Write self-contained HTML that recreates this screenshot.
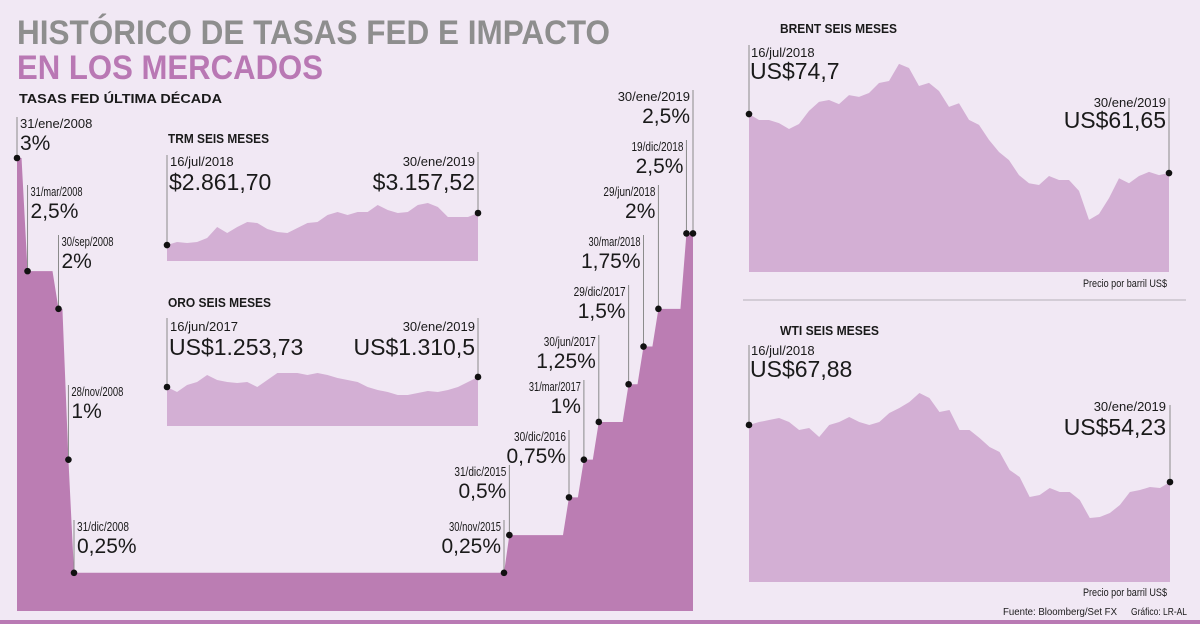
<!DOCTYPE html>
<html><head><meta charset="utf-8"><style>
html,body{margin:0;padding:0;background:#f1e8f4;}
svg{display:block;}
text{font-family:"Liberation Sans",sans-serif;fill:#1a1a1a;}
.t1{font-weight:bold;font-size:34px;fill:#8e8e8e;}
.t2{font-weight:bold;font-size:34px;fill:#b978b4;}
.h{font-weight:bold;font-size:13px;}
.d{font-size:13px;}
.dn{font-size:13px;}
.v{font-size:21px;}
.big{font-size:23px;}
.sm{font-size:11px;}
</style></head><body>
<svg id="root" width="1200" height="624" viewBox="0 0 1200 624">
<rect x="0" y="0" width="1200" height="624" fill="#f1e8f4"/>
<text class="t1" x="17" y="44" textLength="593" lengthAdjust="spacingAndGlyphs">HISTÓRICO DE TASAS FED E IMPACTO</text>
<text class="t2" x="17" y="79" textLength="306" lengthAdjust="spacingAndGlyphs">EN LOS MERCADOS</text>
<text class="h" x="19" y="103" textLength="203" lengthAdjust="spacingAndGlyphs">TASAS FED ÚLTIMA DÉCADA</text>
<g id="fed"></g>
<text class="h" x="168" y="143" textLength="101" lengthAdjust="spacingAndGlyphs">TRM SEIS MESES</text>
<g id="trm"></g>
<text class="d" x="170" y="166">16/jul/2018</text>
<text class="big" x="169" y="190">$2.861,70</text>
<text class="d" x="475" y="166" text-anchor="end">30/ene/2019</text>
<text class="big" x="475" y="190" text-anchor="end">$3.157,52</text>
<text class="h" x="168" y="307" textLength="103" lengthAdjust="spacingAndGlyphs">ORO SEIS MESES</text>
<g id="oro"></g>
<text class="d" x="170" y="331">16/jun/2017</text>
<text class="big" x="169" y="355">US$1.253,73</text>
<text class="d" x="475" y="331" text-anchor="end">30/ene/2019</text>
<text class="big" x="475" y="355" text-anchor="end">US$1.310,5</text>
<text class="h" x="780" y="33" textLength="117" lengthAdjust="spacingAndGlyphs">BRENT SEIS MESES</text>
<g id="brent"></g>
<text class="d" x="751" y="57">16/jul/2018</text>
<text class="big" x="750" y="79">US$74,7</text>
<text class="d" x="1166" y="107" text-anchor="end">30/ene/2019</text>
<text class="big" x="1166" y="128" text-anchor="end">US$61,65</text>
<text class="sm" x="1083" y="287" textLength="84" lengthAdjust="spacingAndGlyphs">Precio por barril US$</text>
<line x1="743" y1="300" x2="1186" y2="300" stroke="#c9c2cc" stroke-width="1.5"/>
<text class="h" x="780" y="335" textLength="99" lengthAdjust="spacingAndGlyphs">WTI SEIS MESES</text>
<g id="wti"></g>
<text class="d" x="751" y="355">16/jul/2018</text>
<text class="big" x="750" y="377">US$67,88</text>
<text class="d" x="1166" y="411" text-anchor="end">30/ene/2019</text>
<text class="big" x="1166" y="435" text-anchor="end">US$54,23</text>
<text class="sm" x="1083" y="596" textLength="84" lengthAdjust="spacingAndGlyphs">Precio por barril US$</text>
<text x="1003" y="615" style="font-size:10px" textLength="114" lengthAdjust="spacingAndGlyphs">Fuente: Bloomberg/Set FX</text>
<text x="1131" y="615" style="font-size:10px" textLength="56" lengthAdjust="spacingAndGlyphs">Gráfico: LR-AL</text>
<rect x="0" y="620" width="1200" height="4" fill="#b97ab4"/>
</svg>
<script>
// ---- Fed data ----
const fedDates = [2008.08, 2008.25, 2008.75, 2008.91, 2009.0, 2015.91, 2016.0, 2017.0, 2017.25, 2017.5, 2018.0, 2018.25, 2018.5, 2018.97, 2019.08];
const fedRates = [3, 2.25, 2, 1, 0.25, 0.25, 0.5, 0.75, 1, 1.25, 1.5, 1.75, 2, 2.5, 2.5];
const fedDateLabels = ["31/ene/2008","31/mar/2008","30/sep/2008","28/nov/2008","31/dic/2008","30/nov/2015","31/dic/2015","30/dic/2016","31/mar/2017","30/jun/2017","29/dic/2017","30/mar/2018","29/jun/2018","19/dic/2018","30/ene/2019"];
const fedValueLabels = ["3%","2,5%","2%","1%","0,25%","0,25%","0,5%","0,75%","1%","1,25%","1,5%","1,75%","2%","2,5%","2,5%"];
// ---- small charts ----
const trmValues = [2861.7,2889.4,2880.2,2889.4,2926.4,3028.1,2972.6,3028.1,3074.3,3065.1,3010.0,2981.9,2972.6,3018.9,3065.1,3074.3,3139.0,3166.8,3139.0,3166.8,3166.8,3231.5,3185.3,3157.5,3166.8,3231.5,3250.0,3213.0,3120.5,3120.5,3120.5,3157.52];
const oroValues = [1253.73,1225.3,1265.1,1282.1,1321.9,1293.5,1282.1,1276.4,1282.1,1253.7,1293.5,1333.2,1333.2,1333.2,1321.9,1333.2,1321.9,1304.8,1293.5,1282.1,1253.7,1236.7,1225.3,1208.3,1208.3,1219.7,1231.0,1225.3,1236.7,1253.7,1282.1,1310.5];
const brentValues = [74.7,73.38,73.38,72.7,71.4,72.5,75.4,77.4,77.8,76.9,78.9,78.5,79.35,81.56,82.0,85.8,84.9,80.9,81.6,79.8,76.3,77.1,73.4,72.3,69.0,66.3,64.5,61.2,59.4,59.0,61.0,60.1,60.1,57.7,51.3,52.6,56.1,60.5,59.4,61.0,61.9,61.2,61.65];
const wtiValues = [67.88,68.58,69.06,69.54,68.58,66.67,67.15,65.0,67.87,68.58,69.78,68.58,67.87,68.58,70.74,71.93,73.37,75.52,74.33,70.98,71.45,66.67,66.67,64.76,62.6,61.41,57.1,55.43,50.65,51.12,52.79,51.84,51.84,49.92,45.62,45.86,46.81,48.73,51.84,52.32,53.03,52.79,54.23];

const NS = "http://www.w3.org/2000/svg";
function lin(d0,d1,r0,r1){return v=>r0+(v-d0)*(r1-r0)/(d1-d0);}
function poly(dom,rng){return v=>{let i=0;while(i<dom.length-2&&v>dom[i+1])i++;return rng[i]+(v-dom[i])*(rng[i+1]-rng[i])/(dom[i+1]-dom[i]);};}
function mk(tag, attrs, parent){const e=document.createElementNS(NS,tag);for(const k in attrs)e.setAttribute(k,attrs[k]);parent.appendChild(e);return e;}

// Fed chart
(function(){
  const g=document.getElementById('fed');
  const x=poly([2008.08,2009.0,2015.91,2019.08],[17,74,504,693]), y=lin(0,3,610.5,158), base=611;
  const xs=fedDates.map(x), ys=fedRates.map(y);
  let d=`M${xs[0]},${base} L${xs[0]},${ys[0]}`;
  for(let i=1;i<xs.length;i++){
    const rs=Math.max(xs[i-1],xs[i]-6);
    d+=` L${rs},${ys[i-1]} L${xs[i]},${ys[i]}`;
  }
  d+=` L${xs[xs.length-1]},${base} Z`;
  const area=mk('path',{d:d,fill:'#bb7db3'},g);
  
  
  const labelTop=[117,185,235,385,520,520,465,430,380,335,285,235,185,140,90];
  const narrow=[false,true,true,true,true,true,true,true,true,true,true,true,true,true,false];
  for(let i=0;i<xs.length;i++){
    const left=i<5;
    const ln=mk('line',{x1:xs[i],y1:labelTop[i],x2:xs[i],y2:ys[i],stroke:'#8a8a8a','stroke-width':1},g);
    
    
    const tx=left?xs[i]+3:xs[i]-3, anc=left?'start':'end';
    const a1={x:tx,y:labelTop[i]+11,'text-anchor':anc,class:'d'};
    if(narrow[i]){a1.textLength=52;a1.lengthAdjust='spacingAndGlyphs';}
    const t1=mk('text',a1,g);
    t1.textContent=fedDateLabels[i];
    
    
    const t2=mk('text',{x:tx,y:labelTop[i]+33,'text-anchor':anc,class:'v'},g);
    t2.textContent=fedValueLabels[i];
    
    
  }
  for(let i=0;i<xs.length;i++){
    const c=mk('circle',{cx:xs[i],cy:ys[i],r:3.3,fill:'#111'},g);
    
    
  }
})();

function small(id, vals, x0, x1, base, d0, d1, r0, r1, lTop, rTop, name){
  const g=document.getElementById(id);
  const y=lin(d0,d1,r0,r1), n=vals.length, x=lin(0,n-1,x0,x1);
  let d=`M${x0},${base}`;
  vals.forEach((v,i)=>{d+=` L${x(i)},${y(v)}`;});
  d+=` L${x1},${base} Z`;
  const a=mk('path',{d:d,fill:'#d3afd4'},g);
  
  
  const l1=mk('line',{x1:x0,y1:lTop,x2:x0,y2:y(vals[0]),stroke:'#8a8a8a','stroke-width':1},g);
  
  
  const l2=mk('line',{x1:x1,y1:rTop,x2:x1,y2:y(vals[n-1]),stroke:'#8a8a8a','stroke-width':1},g);
  
  
  const c1=mk('circle',{cx:x0,cy:y(vals[0]),r:3.3,fill:'#111'},g);
  
  
  const c2=mk('circle',{cx:x1,cy:y(vals[n-1]),r:3.3,fill:'#111'},g);
  
  
}
small('trm',trmValues,167,478,261,2800,3300,251.7,197.6,155,152,'trm');
small('oro',oroValues,167,478,426,1200,1350,396.5,370.0,318,318,'oro');
small('brent',brentValues,749,1169,272,40,90,270.9,44.9,45,98,'brent');
small('wti',wtiValues,749,1170,582,40,80,541.5,374.3,345,405,'wti');
</script>
</body></html>
